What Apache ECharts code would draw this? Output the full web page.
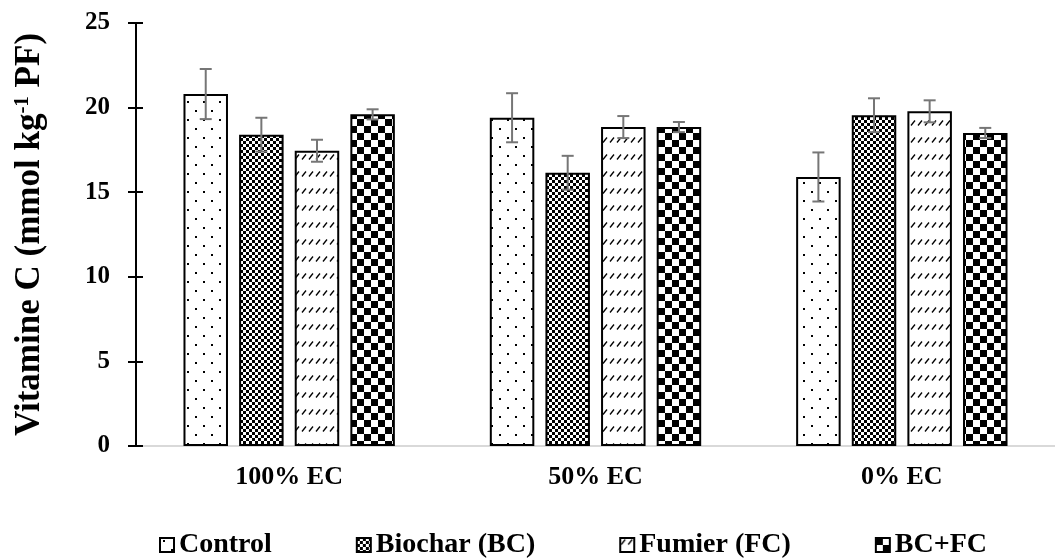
<!DOCTYPE html>
<html>
<head>
<meta charset="utf-8">
<script src="https://cdn.jsdelivr.net/npm/echarts@6/dist/echarts.min.js"></script>
<style>
    html, body { margin: 0; padding: 0; background: #fff; }
    #chart { width: 1055px; height: 558px; }
</style>
</head>
<body>
<div id="chart"></div>
<script>
// 数据
const categories = ['100% EC', '50% EC', '0% EC'];
const seriesNames = ['Control', 'Biochar (BC)', 'Fumier (FC)', 'BC+FC'];
const yTicks = [0, 5, 10, 15, 20, 25];

const controlValues = [20.8, 19.4, 15.9];
const controlErrors = [1.48, 1.45, 1.45];
const biocharValues = [18.4, 16.15, 19.55];
const biocharErrors = [1.0, 1.0, 1.0];
const fumierValues = [17.45, 18.85, 19.78];
const fumierErrors = [0.65, 0.65, 0.65];
const bcfcValues = [19.6, 18.85, 18.5];
const bcfcErrors = [0.3, 0.3, 0.3];

const FONT = "'Liberation Serif', 'Times New Roman', serif";
const CATEGORY_GAP = 0.31;
const BAR_GAP = 0.25;

// 图案填充
function makePattern(w, h, draw) {
    let c = document.createElement('canvas');
    c.width = w;
    c.height = h;
    let ctx = c.getContext('2d');
    ctx.fillStyle = '#fff';
    ctx.fillRect(0, 0, w, h);
    ctx.fillStyle = '#000';
    ctx.strokeStyle = '#000';
    draw(ctx);
    return { image: c, repeat: 'repeat' };
}

const dotPattern = makePattern(16, 18, function (ctx) {
    ctx.fillRect(3, 2, 2, 2);
    ctx.fillRect(11, 11, 2, 2);
});

const smallCheck = makePattern(6, 6, function (ctx) {
    ctx.fillRect(0, 0, 3, 3);
    ctx.fillRect(3, 3, 3, 3);
});

const dashPattern = makePattern(7, 17, function (ctx) {
    ctx.lineWidth = 1.3;
    ctx.beginPath();
    ctx.moveTo(1, 6.5);
    ctx.lineTo(5, 1.5);
    ctx.stroke();
});

const bigCheck = makePattern(14, 14, function (ctx) {
    ctx.fillRect(0, 0, 7, 7);
    ctx.fillRect(7, 7, 7, 7);
});

const patterns = [dotPattern, smallCheck, dashPattern, bigCheck];
const valueLists = [controlValues, biocharValues, fumierValues, bcfcValues];
const errorLists = [controlErrors, biocharErrors, fumierErrors, bcfcErrors];

// 误差线
function errorRenderer(seriesIdx) {
    return function (params, api) {
        let idx = api.value(0);
        let val = api.value(1);
        let err = api.value(2);
        let band = api.size([1, 0])[0];
        let group = band * (1 - CATEGORY_GAP);
        let w = group / (4 + 3 * BAR_GAP);
        let x = api.coord([idx, val])[0] - group / 2 + w / 2 + seriesIdx * w * (1 + BAR_GAP);
        let top = api.coord([idx, val + err])[1];
        let bottom = api.coord([idx, val - err])[1];
        let cap = 6;
        let style = { stroke: '#767676', lineWidth: 2 };
        return {
            type: 'group',
            children: [
                { type: 'line', shape: { x1: x, y1: top, x2: x, y2: bottom }, style: style },
                { type: 'line', shape: { x1: x - cap, y1: top, x2: x + cap, y2: top }, style: style },
                { type: 'line', shape: { x1: x - cap, y1: bottom, x2: x + cap, y2: bottom }, style: style }
            ]
        };
    };
}

let series = [];
for (let i = 0; i < seriesNames.length; i++) {
    series.push({
        name: seriesNames[i],
        type: 'bar',
        data: valueLists[i],
        barGap: (BAR_GAP * 100) + '%',
        barCategoryGap: (CATEGORY_GAP * 100) + '%',
        itemStyle: {
            color: patterns[i],
            borderColor: '#000',
            borderWidth: 2
        },
        z: 2
    });
}
for (let i = 0; i < seriesNames.length; i++) {
    let data = [];
    for (let j = 0; j < categories.length; j++) {
        data.push([j, valueLists[i][j], errorLists[i][j]]);
    }
    series.push({
        type: 'custom',
        renderItem: errorRenderer(i),
        data: data,
        encode: { x: 0, y: 1 },
        silent: true,
        z: 5
    });
}

const option = {
    animation: false,
    textStyle: { fontFamily: FONT },
    grid: { left: 136, top: 23, width: 930, height: 423, containLabel: false },
    legend: {
        data: seriesNames,
        left: 159,
        top: 531,
        padding: 0,
        itemWidth: 14,
        itemHeight: 14,
        itemGap: 84,
        icon: 'rect',
        textStyle: { fontFamily: FONT, fontWeight: 'bold', fontSize: 28, color: '#000' }
    },
    xAxis: {
        type: 'category',
        data: categories,
        axisLine: { lineStyle: { color: '#d9d9d9', width: 2 } },
        axisTick: { show: false },
        axisLabel: { fontFamily: FONT, fontWeight: 'bold', fontSize: 26, color: '#000', margin: 18 }
    },
    yAxis: [{
        type: 'value',
        min: yTicks[0],
        max: yTicks[yTicks.length - 1],
        interval: 5,
        name: '{a|Vitamine C (mmol kg}{s|-1}{a| PF)}',
        nameLocation: 'middle',
        nameGap: 88,
        nameTextStyle: {
            rich: {
                a: { fontFamily: FONT, fontWeight: 'bold', fontSize: 35, color: '#000' },
                s: { fontFamily: FONT, fontWeight: 'bold', fontSize: 21, color: '#000', verticalAlign: 'top', padding: [0, 0, 15, 0] }
            }
        },
        axisLine: { show: true, lineStyle: { color: '#000', width: 2 } },
        axisTick: { show: true, inside: false, length: 8, lineStyle: { color: '#000', width: 2 } },
        axisLabel: { fontFamily: FONT, fontWeight: 'bold', fontSize: 25, color: '#000', margin: 26 },
        splitLine: { show: false }
    }, {
        type: 'value',
        position: 'left',
        min: yTicks[0],
        max: yTicks[yTicks.length - 1],
        interval: 5,
        axisLine: { show: false },
        axisTick: { show: true, inside: true, length: 7, lineStyle: { color: '#000', width: 2 } },
        axisLabel: { show: false },
        splitLine: { show: false }
    }],
    series: series
};

let chart = echarts.init(document.getElementById('chart'));
chart.setOption(option);
</script>
</body>
</html>
